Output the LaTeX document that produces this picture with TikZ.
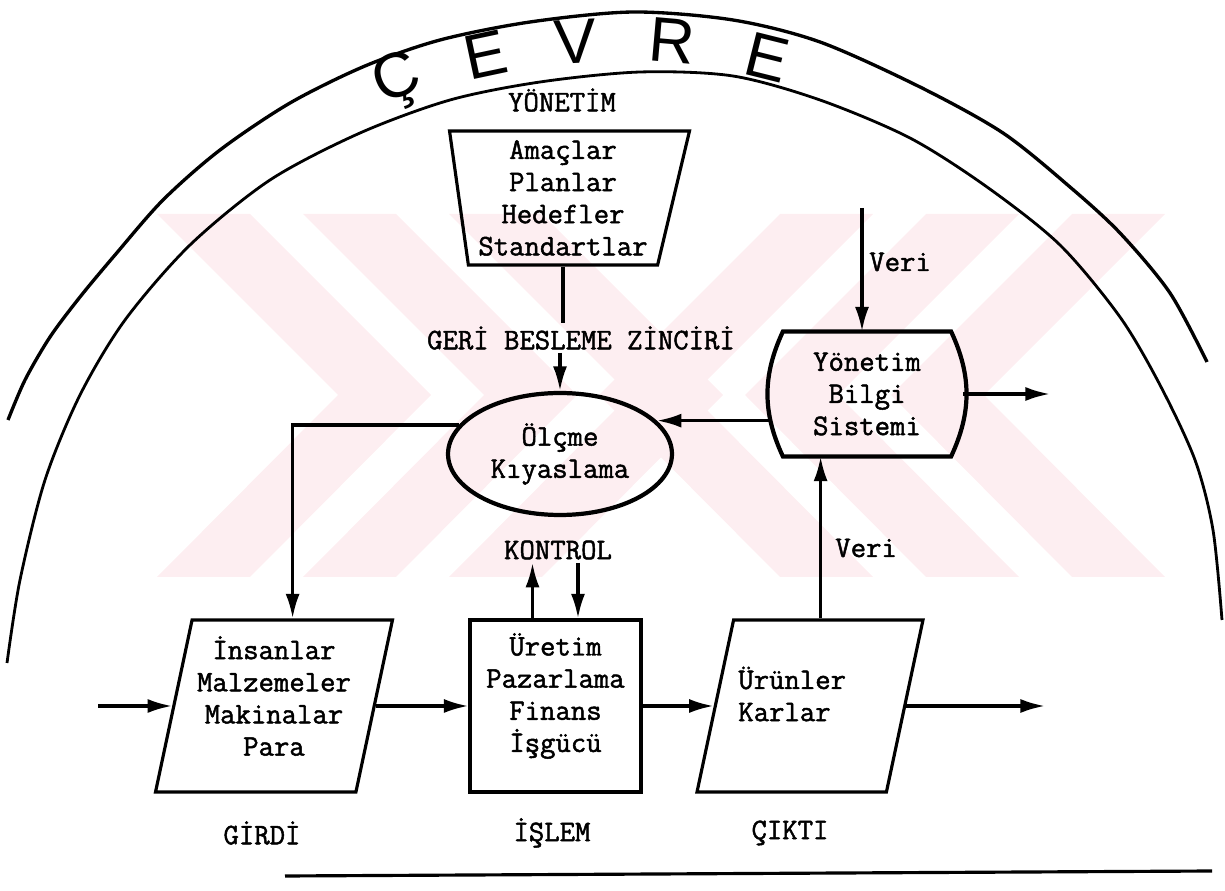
\documentclass[tikz,border=0pt]{standalone}
\usepackage{fontspec}
\newfontfamily\twfont{Latin Modern Mono}[FakeBold=1.6]
\newfontfamily\handfont{Liberation Sans}
\usetikzlibrary{arrows.meta,shapes.geometric}

\definecolor{wmpink}{RGB}{253,238,241}
\tikzset{
  arr/.style={-{Latex[length=14pt,width=8pt]}},
  box/.style={draw,line width=1.8pt},
  txt/.style={font=\twfont\fontsize{17}{18.3}\selectfont,align=center,inner sep=1pt},
  hand/.style={font=\handfont\fontsize{36}{36}\selectfont,inner sep=0pt},
  slanted/.style={trapezium,trapezium left angle=78,trapezium right angle=102,
    trapezium stretches body,inner sep=0pt,text height=3.44cm,text depth=0pt},
}

\begin{document}
\begin{tikzpicture}[x=0.02cm,y=-0.02cm,line width=1.8pt]
\useasboundingbox (0,0) rectangle (1225,891);
% watermark
\foreach \a in {157,303,449}
  \fill[wmpink] (\a,214) -- (\a+93,214) -- (\a+274,395) -- (\a+93,577) -- (\a,577) -- (\a+181,395) -- cycle;
\foreach \b in {780,926,1072}
  \fill[wmpink] (\b,214) -- (\b+93,214) -- (\b-88,395) -- (\b+93,577) -- (\b,577) -- (\b-181,395) -- cycle;

% environment
\draw[line width=1.9pt] plot[smooth] coordinates {(8,420) (25,380) (50,337) (80,297) (115,255) (163,200) (220,150) (290,103) (365,66) (440,40) (530,22) (633,12) (733,20) (820,42) (920,87) (1003,133) (1070,187) (1120,233) (1170,293) (1207,362)};
\draw[line width=1.6pt] plot[smooth] coordinates {(7,663) (20,580) (45,480) (80,395) (125,320) (190,245) (270,180) (360,133) (450,100) (540,82) (640,72) (733,76) (820,100) (910,138) (987,187) (1060,245) (1120,317) (1160,385) (1195,460) (1213,530) (1222,620)};
\node[hand,rotate=22] (cevreC) at (398,82) {Ç};
\node[hand,rotate=12] (cevreE) at (486,55) {E};
\node[hand,rotate=3] (cevreV) at (575,42) {V};
\node[hand,rotate=-5] (cevreR) at (672,41) {R};
\node[hand,rotate=-14] (cevreEE) at (767,57) {E};

\node[txt] (yonetim) at (562,100) {YÖNETİM};
\node[box,trapezium,trapezium left angle=99,trapezium right angle=105,trapezium stretches body,
  minimum width=4.8cm,minimum height=2.68cm,txt] (amac) at (563,198) {Amaçlar\\Planlar\\Hedefler\\Standartlar};
\node[txt] (geri) at (581,338) {GERİ BESLEME ZİNCİRİ};
\node[draw,ellipse,line width=2.4pt,minimum width=4.48cm,minimum height=2.44cm,inner sep=0pt,txt] (olcme) at (560,454) {Ölçme\\Kıyaslama};
\node[minimum width=3.78cm,minimum height=2.44cm,txt] (mis) at (867,394) {Yönetim\\Bilgi\\Sistemi};
\draw[line width=2.4pt] ([xshift=0.24cm]mis.north west) -- ([xshift=-0.24cm]mis.north east)
  to[bend left=25] ([xshift=-0.24cm]mis.south east) -- ([xshift=0.24cm]mis.south west)
  to[bend left=25] ([xshift=0.24cm]mis.north west) -- cycle;
\node[txt] (kontrol) at (558,550) {KONTROL};
\node[txt,anchor=west] (veri) at (866,262) {Veri};
\node[txt,anchor=west] (verib) at (832,548) {Veri};

\node[box,slanted,minimum width=4.74cm] (girdi) at (274,706) {};
\node[txt] (girditxt) at ([yshift=0.2cm]girdi.center) {İnsanlar\\Malzemeler\\Makinalar\\Para};
\node[box,minimum width=3.42cm,minimum height=3.44cm] (islem) at (555.5,706) {};
\node[txt] (islemtxt) at ([yshift=0.2cm]islem.center) {Üretim\\Pazarlama\\Finans\\İşgücü};
\node[box,slanted,minimum width=4.52cm] (cikti) at (810,706) {};
\node[txt,align=left,anchor=west] (ciktitxt) at ([xshift=-1.5cm,yshift=0.24cm]cikti.center) {Ürünler\\Karlar};
\node[txt] (girdilbl) at (262,833) {GİRDİ};
\node[txt] (islemlbl) at (552,833) {İŞLEM};
\node[txt] (ciktilbl) at (790,833) {ÇIKTI};

\coordinate (veritop) at (862,208);
\coordinate (misout) at (1050,394);
\coordinate (inlet) at (98,706);
\coordinate (outlet) at (1045,706);
\coordinate (kup) at ([xshift=-0.46cm]islem.north);
\coordinate (kdown) at ([xshift=0.45cm]islem.north);
\coordinate (veribot) at ([xshift=-0.16cm]cikti.top side);

\draw (amac.bottom side) -- (amac.bottom side |- geri.north);
\draw[arr] (olcme.north |- geri.south) -- (olcme.north);
\draw[arr] (mis.west |- olcme.19) -- (olcme.19);
\draw[arr] (olcme.164) -| (girdi.top side);
\draw[arr] (kup) -- (kup |- kontrol.south);
\draw[arr] (kdown |- kontrol.south) -- (kdown);
\draw[arr] (veritop) -- (veritop |- mis.north);
\draw[arr] (veribot) -- (veribot |- mis.south);
\draw[arr] (mis.east) -- (misout);
\draw[arr] (inlet) -- (girdi.left side);
\foreach \from/\to in {girdi.right side/islem.west, islem.east/cikti.left side}
  \draw[arr] (\from) -- (\to);
\draw[arr] (cikti.right side) -- (outlet);
\draw (285,876) -- (1212,871);
\end{tikzpicture}
\end{document}
